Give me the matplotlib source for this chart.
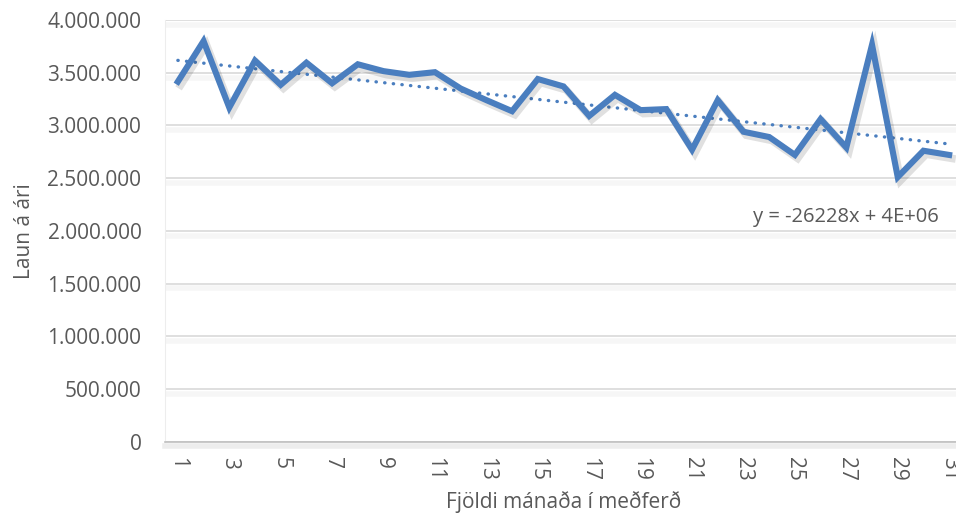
import numpy as np
import matplotlib
matplotlib.use("Agg")
import matplotlib.pyplot as plt
import matplotlib.patheffects as pe
from matplotlib.ticker import FuncFormatter

plt.rcParams['font.family'] = ['Open Sans', 'DejaVu Sans']

months = list(range(1, 32))
salary = [3415000, 3800000, 3170000, 3615000, 3385000, 3595000, 3400000, 3580000,
          3515000, 3480000, 3505000, 3350000, 3240000, 3135000, 3440000, 3370000,
          3090000, 3290000, 3145000, 3155000, 2770000, 3240000, 2940000, 2890000,
          2720000, 3060000, 2790000, 3765000, 2510000, 2760000, 2720000]
y_ticks = [0, 500000, 1000000, 1500000, 2000000, 2500000, 3000000, 3500000, 4000000]
x_ticks = list(range(1, 32, 2))
eq_label = "y = -26228x + 4E+06"

blue = '#4A7EBF'
grey_txt = '#595959'

fig = plt.figure(figsize=(9.56, 5.22), dpi=100)
ax = fig.add_axes([165 / 956, 1 - 441.7 / 522, (962 - 165) / 956, (441.7 - 20) / 522])

# gridlines with a soft shadow like Excel
ax.set_yticks(y_ticks)
ax.yaxis.grid(True, color='#D9D9D9', linewidth=1.2)
for gl in ax.get_ygridlines():
    gl.set_path_effects([
        pe.SimpleLineShadow(offset=(0, -3.5), shadow_color='#000000', alpha=0.035, linewidth=4),
        pe.Normal()])
ax.set_axisbelow(True)

# trendline
coef = np.polyfit(months, salary, 1)
trend = np.polyval(coef, months)
ax.plot(months, trend, color=blue, linewidth=2.4, linestyle=(0, (0.1, 2.5)),
        dash_capstyle='round', zorder=3)

# main series
ax.plot(months, salary, color=blue, linewidth=4.4, solid_joinstyle='miter', zorder=4,
        path_effects=[
            pe.SimpleLineShadow(offset=(2, -2.5), shadow_color='#000000', alpha=0.12, linewidth=5.5),
            pe.Normal()])

ax.text(30.6, 2.13e6, eq_label, ha='right', va='center', fontsize=14.5, color=grey_txt)

ax.set_xlim(0.5, 31.5)
ax.set_ylim(0, 4000000)
ax.set_xticks(x_ticks)
ax.set_xticklabels([str(v) for v in x_ticks], rotation=-90, ha='center', va='top')
ax.yaxis.set_major_formatter(FuncFormatter(lambda v, p: f"{int(v):,}".replace(',', '.')))

ax.tick_params(axis='both', length=0, labelsize=15, labelcolor=grey_txt)
ax.tick_params(axis='x', pad=11)
ax.tick_params(axis='y', pad=17)

for s in ['top', 'right']:
    ax.spines[s].set_visible(False)
ax.spines['left'].set_color('#EDEDED')
ax.spines['bottom'].set_color('#BFBFBF')
ax.spines['bottom'].set_linewidth(1.2)
ax.spines['bottom'].set_path_effects([
    pe.SimpleLineShadow(offset=(0, -3), shadow_color='#000000', alpha=0.07, linewidth=4),
    pe.Normal()])

ax.set_xlabel('Fjöldi mánaða í meðferð', fontsize=15, color=grey_txt, labelpad=7)
ax.set_ylabel('Laun á ári', fontsize=15, color=grey_txt, labelpad=9)

fig.savefig('out.png', dpi=100)
